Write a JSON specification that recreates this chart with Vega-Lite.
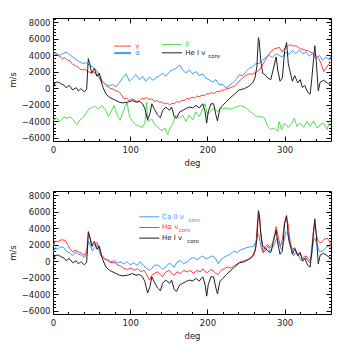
{
"$schema": "https://vega.github.io/schema/vega-lite/v6.json",
"padding": {"left": 7, "top": 17, "right": 0, "bottom": 0},
"spacing": 22,
"resolve": {"scale": {"color": "independent"}},
"config": {
 "view": {"stroke": "#000", "strokeWidth": 1},
 "axis": {"labelFont": "DejaVu Sans", "labelFontSize": 8.5, "labelColor": "#222", "titleFont": "DejaVu Sans", "titleFontSize": 8.5, "titleFontWeight": "normal", "titleColor": "#222", "tickColor": "#000", "tickWidth": 1, "domain": false, "grid": false, "labelOverlap": false, "labelFlush": false, "format": "d"}
},
"datasets": {
 "top": [
  {"s":"γ","x":0,"y":4080},{"s":"γ","x":2,"y":4200},{"s":"γ","x":6,"y":3970},{"s":"γ","x":8,"y":3900},{"s":"γ","x":12.5,"y":3580},{"s":"γ","x":15,"y":3700},{"s":"γ","x":19,"y":3390},{"s":"γ","x":22,"y":3300},{"s":"γ","x":25.5,"y":2880},{"s":"γ","x":29,"y":2750},{"s":"γ","x":32,"y":2600},{"s":"γ","x":35,"y":2300},{"s":"γ","x":38.4,"y":2210},{"s":"γ","x":41,"y":2300},{"s":"γ","x":45,"y":2020},{"s":"γ","x":48,"y":1900},{"s":"γ","x":51,"y":1820},{"s":"γ","x":53,"y":2000},{"s":"γ","x":56,"y":1600},{"s":"γ","x":58,"y":1630},{"s":"γ","x":62,"y":840},{"s":"γ","x":65,"y":700},{"s":"γ","x":68.6,"y":340},{"s":"γ","x":72,"y":100},{"s":"γ","x":75,"y":-60},{"s":"γ","x":78,"y":-100},{"s":"γ","x":81.6,"y":-330},{"s":"γ","x":85,"y":-400},{"s":"γ","x":88,"y":-720},{"s":"γ","x":92,"y":-1300},{"s":"γ","x":95,"y":-1200},{"s":"γ","x":99,"y":-1500},{"s":"γ","x":102,"y":-1300},{"s":"γ","x":105,"y":-1420},{"s":"γ","x":108,"y":-1600},{"s":"γ","x":112,"y":-1500},{"s":"γ","x":115,"y":-1250},{"s":"γ","x":118,"y":-1300},{"s":"γ","x":121,"y":-1150},{"s":"γ","x":125,"y":-1380},{"s":"γ","x":128,"y":-1300},{"s":"γ","x":131,"y":-1620},{"s":"γ","x":134,"y":-1500},{"s":"γ","x":138,"y":-1700},{"s":"γ","x":141,"y":-1650},{"s":"γ","x":144,"y":-1890},{"s":"γ","x":148,"y":-1800},{"s":"γ","x":151,"y":-2010},{"s":"γ","x":154,"y":-1850},{"s":"γ","x":157,"y":-1890},{"s":"γ","x":160,"y":-1650},{"s":"γ","x":164,"y":-1700},{"s":"γ","x":167,"y":-1450},{"s":"γ","x":170,"y":-1500},{"s":"γ","x":173,"y":-1250},{"s":"γ","x":176.5,"y":-1300},{"s":"γ","x":180,"y":-1100},{"s":"γ","x":183,"y":-1190},{"s":"γ","x":186,"y":-950},{"s":"γ","x":189.5,"y":-1030},{"s":"γ","x":193,"y":-850},{"s":"γ","x":196,"y":-910},{"s":"γ","x":199,"y":-700},{"s":"γ","x":202,"y":-720},{"s":"γ","x":205,"y":-550},{"s":"γ","x":209,"y":-640},{"s":"γ","x":212,"y":-400},{"s":"γ","x":215,"y":-450},{"s":"γ","x":218,"y":-250},{"s":"γ","x":222,"y":-210},{"s":"γ","x":225,"y":-50},{"s":"γ","x":228,"y":-20},{"s":"γ","x":231,"y":100},{"s":"γ","x":235,"y":260},{"s":"γ","x":238,"y":500},{"s":"γ","x":241,"y":840},{"s":"γ","x":244,"y":1100},{"s":"γ","x":248,"y":1430},{"s":"γ","x":251,"y":1600},{"s":"γ","x":254,"y":1740},{"s":"γ","x":258,"y":1700},{"s":"γ","x":261,"y":1820},{"s":"γ","x":264,"y":2000},{"s":"γ","x":267,"y":2210},{"s":"γ","x":270,"y":2600},{"s":"γ","x":273.6,"y":3190},{"s":"γ","x":277,"y":3700},{"s":"γ","x":280,"y":4170},{"s":"γ","x":283,"y":4500},{"s":"γ","x":286.6,"y":4760},{"s":"γ","x":290,"y":4850},{"s":"γ","x":293,"y":4950},{"s":"γ","x":297,"y":4360},{"s":"γ","x":299,"y":4700},{"s":"γ","x":301.7,"y":5030},{"s":"γ","x":305,"y":5150},{"s":"γ","x":308,"y":5260},{"s":"γ","x":311,"y":5100},{"s":"γ","x":314.6,"y":5140},{"s":"γ","x":318,"y":4900},{"s":"γ","x":321,"y":4760},{"s":"γ","x":324,"y":4700},{"s":"γ","x":327.6,"y":4560},{"s":"γ","x":331,"y":4500},{"s":"γ","x":334,"y":4360},{"s":"γ","x":337,"y":4200},{"s":"γ","x":340.5,"y":3970},{"s":"γ","x":344,"y":3600},{"s":"γ","x":347,"y":3000},{"s":"γ","x":350.5,"y":2020},{"s":"γ","x":353.5,"y":2400},{"s":"γ","x":357,"y":2900},{"s":"γ","x":360,"y":3190},
  {"s":"α","x":0,"y":4440},{"s":"α","x":4,"y":4240},{"s":"α","x":8,"y":3970},{"s":"α","x":12.5,"y":4170},{"s":"α","x":17,"y":4360},{"s":"α","x":21,"y":4090},{"s":"α","x":25.5,"y":3780},{"s":"α","x":30,"y":3470},{"s":"α","x":34,"y":3190},{"s":"α","x":38.4,"y":3000},{"s":"α","x":43,"y":3070},{"s":"α","x":47,"y":2800},{"s":"α","x":51,"y":2600},{"s":"α","x":55.7,"y":2210},{"s":"α","x":60,"y":1630},{"s":"α","x":64,"y":840},{"s":"α","x":68.6,"y":450},{"s":"α","x":73,"y":260},{"s":"α","x":77,"y":450},{"s":"α","x":81.6,"y":180},{"s":"α","x":86,"y":650},{"s":"α","x":90,"y":1230},{"s":"α","x":94.5,"y":1740},{"s":"α","x":99,"y":840},{"s":"α","x":103,"y":1230},{"s":"α","x":107.5,"y":1630},{"s":"α","x":112,"y":1040},{"s":"α","x":116,"y":1430},{"s":"α","x":120,"y":840},{"s":"α","x":125,"y":1350},{"s":"α","x":129,"y":960},{"s":"α","x":133,"y":1230},{"s":"α","x":138,"y":1510},{"s":"α","x":142,"y":1820},{"s":"α","x":146,"y":1430},{"s":"α","x":151,"y":2020},{"s":"α","x":155,"y":2210},{"s":"α","x":159,"y":2400},{"s":"α","x":164,"y":2800},{"s":"α","x":168,"y":2210},{"s":"α","x":172,"y":1820},{"s":"α","x":176.5,"y":2210},{"s":"α","x":181,"y":1740},{"s":"α","x":185,"y":2020},{"s":"α","x":189.5,"y":1510},{"s":"α","x":194,"y":1740},{"s":"α","x":198,"y":1230},{"s":"α","x":202,"y":1040},{"s":"α","x":207,"y":730},{"s":"α","x":211,"y":1040},{"s":"α","x":215,"y":450},{"s":"α","x":219.7,"y":450},{"s":"α","x":224,"y":60},{"s":"α","x":228,"y":260},{"s":"α","x":232.6,"y":650},{"s":"α","x":237,"y":1040},{"s":"α","x":241,"y":1630},{"s":"α","x":245.6,"y":1510},{"s":"α","x":250,"y":2020},{"s":"α","x":254,"y":2400},{"s":"α","x":258.5,"y":2600},{"s":"α","x":263,"y":3000},{"s":"α","x":267,"y":3000},{"s":"α","x":271.5,"y":3390},{"s":"α","x":276,"y":3780},{"s":"α","x":280,"y":3970},{"s":"α","x":284.4,"y":3700},{"s":"α","x":289,"y":4170},{"s":"α","x":293,"y":3970},{"s":"α","x":297,"y":3780},{"s":"α","x":301.7,"y":4360},{"s":"α","x":306,"y":4090},{"s":"α","x":310,"y":4560},{"s":"α","x":314.6,"y":4170},{"s":"α","x":319,"y":4630},{"s":"α","x":323,"y":4170},{"s":"α","x":327.6,"y":4360},{"s":"α","x":332,"y":3860},{"s":"α","x":336,"y":4240},{"s":"α","x":340.5,"y":3580},{"s":"α","x":345,"y":3970},{"s":"α","x":349,"y":3390},{"s":"α","x":353.5,"y":3780},{"s":"α","x":358,"y":3390},{"s":"α","x":360,"y":3970},
  {"s":"β","x":0,"y":-3860},{"s":"β","x":5,"y":-3650},{"s":"β","x":9.5,"y":-4040},{"s":"β","x":14,"y":-3460},{"s":"β","x":18,"y":-3650},{"s":"β","x":22.4,"y":-3460},{"s":"β","x":27,"y":-3960},{"s":"β","x":31,"y":-4430},{"s":"β","x":35,"y":-3860},{"s":"β","x":40,"y":-3460},{"s":"β","x":44,"y":-2870},{"s":"β","x":47,"y":-2480},{"s":"β","x":50,"y":-2400},{"s":"β","x":54,"y":-2170},{"s":"β","x":59,"y":-2560},{"s":"β","x":63,"y":-2090},{"s":"β","x":67,"y":-2480},{"s":"β","x":72,"y":-3460},{"s":"β","x":76,"y":-2680},{"s":"β","x":79,"y":-2090},{"s":"β","x":83,"y":-3260},{"s":"β","x":87,"y":-3860},{"s":"β","x":91.5,"y":-2680},{"s":"β","x":96,"y":-1700},{"s":"β","x":99,"y":-3460},{"s":"β","x":103,"y":-4040},{"s":"β","x":107.5,"y":-4430},{"s":"β","x":112,"y":-4630},{"s":"β","x":116,"y":-4750},{"s":"β","x":119,"y":-4240},{"s":"β","x":121,"y":-1700},{"s":"β","x":123,"y":-4040},{"s":"β","x":128,"y":-3730},{"s":"β","x":132,"y":-4430},{"s":"β","x":136,"y":-4750},{"s":"β","x":141,"y":-5140},{"s":"β","x":145,"y":-4830},{"s":"β","x":148.5,"y":-5620},{"s":"β","x":151.5,"y":-4830},{"s":"β","x":155,"y":-4360},{"s":"β","x":159,"y":-3260},{"s":"β","x":164,"y":-3650},{"s":"β","x":168,"y":-3260},{"s":"β","x":172,"y":-4040},{"s":"β","x":176.5,"y":-3260},{"s":"β","x":181,"y":-3860},{"s":"β","x":185,"y":-2870},{"s":"β","x":189.5,"y":-3460},{"s":"β","x":194,"y":-2480},{"s":"β","x":197,"y":-1890},{"s":"β","x":200,"y":-3260},{"s":"β","x":204.6,"y":-2680},{"s":"β","x":209,"y":-2400},{"s":"β","x":213,"y":-2870},{"s":"β","x":217.5,"y":-2480},{"s":"β","x":224,"y":-2400},{"s":"β","x":230.5,"y":-2560},{"s":"β","x":237,"y":-2290},{"s":"β","x":243,"y":-2090},{"s":"β","x":250,"y":-2400},{"s":"β","x":256,"y":-2870},{"s":"β","x":261,"y":-3260},{"s":"β","x":265,"y":-3460},{"s":"β","x":269,"y":-3460},{"s":"β","x":273.6,"y":-3580},{"s":"β","x":278,"y":-4630},{"s":"β","x":282,"y":-5020},{"s":"β","x":286.6,"y":-4830},{"s":"β","x":291,"y":-5220},{"s":"β","x":293,"y":-4040},{"s":"β","x":296,"y":-5020},{"s":"β","x":300,"y":-4240},{"s":"β","x":304.7,"y":-4750},{"s":"β","x":309,"y":-4240},{"s":"β","x":312.5,"y":-3650},{"s":"β","x":316,"y":-4630},{"s":"β","x":320,"y":-4240},{"s":"β","x":324.5,"y":-4750},{"s":"β","x":329,"y":-4040},{"s":"β","x":333,"y":-4630},{"s":"β","x":337.5,"y":-3960},{"s":"β","x":342,"y":-4830},{"s":"β","x":346,"y":-4430},{"s":"β","x":350.5,"y":-4240},{"s":"β","x":355,"y":-5020},{"s":"β","x":358,"y":-4040},{"s":"β","x":360,"y":-3650}
 ],
 "he": [
  {"s":"He","x":0,"y":-60},{"s":"He","x":2.6,"y":650},{"s":"He","x":6,"y":760},{"s":"He","x":10,"y":570},{"s":"He","x":14.7,"y":340},{"s":"He","x":17,"y":60},{"s":"He","x":21,"y":340},{"s":"He","x":25.5,"y":-210},{"s":"He","x":30,"y":60},{"s":"He","x":33,"y":-330},{"s":"He","x":36,"y":-60},{"s":"He","x":40.6,"y":-450},{"s":"He","x":43.6,"y":-130},{"s":"He","x":45.7,"y":3580},{"s":"He","x":47.5,"y":3000},{"s":"He","x":50,"y":1820},{"s":"He","x":53.5,"y":2400},{"s":"He","x":57,"y":1430},{"s":"He","x":60,"y":1820},{"s":"He","x":64,"y":260},{"s":"He","x":68.6,"y":-720},{"s":"He","x":73,"y":-1100},{"s":"He","x":79,"y":-1380},{"s":"He","x":86,"y":-1700},{"s":"He","x":90,"y":-1780},{"s":"He","x":96.7,"y":-1700},{"s":"He","x":103,"y":-1500},{"s":"He","x":107.5,"y":-1700},{"s":"He","x":112,"y":-1620},{"s":"He","x":116,"y":-1890},{"s":"He","x":119,"y":-2480},{"s":"He","x":122.5,"y":-3860},{"s":"He","x":125.6,"y":-3070},{"s":"He","x":128,"y":-1890},{"s":"He","x":131,"y":-2480},{"s":"He","x":135.5,"y":-3260},{"s":"He","x":139,"y":-3580},{"s":"He","x":142,"y":-2680},{"s":"He","x":146,"y":-2290},{"s":"He","x":151,"y":-2680},{"s":"He","x":153.6,"y":-2290},{"s":"He","x":157,"y":-3460},{"s":"He","x":160,"y":-3650},{"s":"He","x":164,"y":-2870},{"s":"He","x":168,"y":-2680},{"s":"He","x":172,"y":-2480},{"s":"He","x":176.5,"y":-2290},{"s":"He","x":181,"y":-2400},{"s":"He","x":185,"y":-2090},{"s":"He","x":189.5,"y":-2400},{"s":"He","x":194,"y":-1890},{"s":"He","x":197,"y":-2870},{"s":"He","x":199,"y":-4240},{"s":"He","x":201,"y":-2870},{"s":"He","x":204.6,"y":-1890},{"s":"He","x":208,"y":-1890},{"s":"He","x":211,"y":-3260},{"s":"He","x":213,"y":-3960},{"s":"He","x":216,"y":-2480},{"s":"He","x":219.7,"y":-2090},{"s":"He","x":224,"y":-1700},{"s":"He","x":228,"y":-1300},{"s":"He","x":235,"y":-720},{"s":"He","x":241,"y":-210},{"s":"He","x":248,"y":-60},{"s":"He","x":254,"y":260},{"s":"He","x":258.5,"y":650},{"s":"He","x":261.5,"y":1230},{"s":"He","x":264,"y":2600},{"s":"He","x":266,"y":6120},{"s":"He","x":267,"y":5730},{"s":"He","x":269,"y":3390},{"s":"He","x":271.5,"y":1820},{"s":"He","x":274.5,"y":1630},{"s":"He","x":278,"y":1230},{"s":"He","x":282,"y":1040},{"s":"He","x":285.5,"y":2400},{"s":"He","x":289,"y":3780},{"s":"He","x":291,"y":2210},{"s":"He","x":294,"y":840},{"s":"He","x":297,"y":1230},{"s":"He","x":300,"y":4560},{"s":"He","x":302.5,"y":5530},{"s":"He","x":304.7,"y":3000},{"s":"He","x":307,"y":2020},{"s":"He","x":310,"y":840},{"s":"He","x":313,"y":1510},{"s":"He","x":317,"y":650},{"s":"He","x":320,"y":1040},{"s":"He","x":323,"y":60},{"s":"He","x":326,"y":340},{"s":"He","x":330,"y":-510},{"s":"He","x":333,"y":-720},{"s":"He","x":335,"y":1040},{"s":"He","x":337.5,"y":3580},{"s":"He","x":339,"y":5140},{"s":"He","x":341,"y":3190},{"s":"He","x":343.5,"y":-330},{"s":"He","x":346,"y":730},{"s":"He","x":350.5,"y":960},{"s":"He","x":355,"y":650},{"s":"He","x":360,"y":340}
 ],
 "bot": [
  {"s":"Ca","x":0,"y":1040},{"s":"Ca","x":3,"y":1630},{"s":"Ca","x":6,"y":1430},{"s":"Ca","x":9.5,"y":1740},{"s":"Ca","x":14,"y":1630},{"s":"Ca","x":17,"y":1230},{"s":"Ca","x":21,"y":1040},{"s":"Ca","x":25.5,"y":650},{"s":"Ca","x":28.5,"y":1120},{"s":"Ca","x":33,"y":840},{"s":"Ca","x":37,"y":730},{"s":"Ca","x":40.6,"y":450},{"s":"Ca","x":43.6,"y":840},{"s":"Ca","x":46,"y":2400},{"s":"Ca","x":48,"y":2020},{"s":"Ca","x":51,"y":1230},{"s":"Ca","x":54,"y":1630},{"s":"Ca","x":57,"y":2020},{"s":"Ca","x":59,"y":1430},{"s":"Ca","x":62,"y":650},{"s":"Ca","x":66.5,"y":260},{"s":"Ca","x":71,"y":180},{"s":"Ca","x":75,"y":-60},{"s":"Ca","x":79,"y":60},{"s":"Ca","x":83.7,"y":-210},{"s":"Ca","x":87,"y":-60},{"s":"Ca","x":91.5,"y":-330},{"s":"Ca","x":96,"y":-60},{"s":"Ca","x":100,"y":-450},{"s":"Ca","x":104.5,"y":-210},{"s":"Ca","x":109,"y":-520},{"s":"Ca","x":113,"y":-60},{"s":"Ca","x":117,"y":-520},{"s":"Ca","x":121.7,"y":-910},{"s":"Ca","x":125,"y":-1110},{"s":"Ca","x":128,"y":-910},{"s":"Ca","x":131,"y":-520},{"s":"Ca","x":135.5,"y":-450},{"s":"Ca","x":139,"y":-720},{"s":"Ca","x":142,"y":-990},{"s":"Ca","x":146,"y":-720},{"s":"Ca","x":151,"y":-210},{"s":"Ca","x":153.6,"y":-520},{"s":"Ca","x":157,"y":-720},{"s":"Ca","x":160.5,"y":-130},{"s":"Ca","x":165,"y":60},{"s":"Ca","x":169,"y":-330},{"s":"Ca","x":174,"y":-60},{"s":"Ca","x":178,"y":260},{"s":"Ca","x":182,"y":450},{"s":"Ca","x":186.5,"y":180},{"s":"Ca","x":190.7,"y":450},{"s":"Ca","x":194,"y":650},{"s":"Ca","x":198,"y":260},{"s":"Ca","x":202,"y":450},{"s":"Ca","x":207,"y":650},{"s":"Ca","x":211,"y":260},{"s":"Ca","x":214,"y":-330},{"s":"Ca","x":217.5,"y":180},{"s":"Ca","x":221,"y":450},{"s":"Ca","x":225,"y":650},{"s":"Ca","x":229.6,"y":840},{"s":"Ca","x":234,"y":1230},{"s":"Ca","x":238,"y":1040},{"s":"Ca","x":242.6,"y":1350},{"s":"Ca","x":247,"y":1510},{"s":"Ca","x":251,"y":1630},{"s":"Ca","x":255.5,"y":1740},{"s":"Ca","x":260,"y":1820},{"s":"Ca","x":263,"y":2400},{"s":"Ca","x":265,"y":3390},{"s":"Ca","x":267,"y":3000},{"s":"Ca","x":269,"y":1820},{"s":"Ca","x":272,"y":1040},{"s":"Ca","x":275.8,"y":1350},{"s":"Ca","x":278,"y":1820},{"s":"Ca","x":281,"y":1230},{"s":"Ca","x":284.4,"y":1630},{"s":"Ca","x":287.5,"y":2210},{"s":"Ca","x":290,"y":2800},{"s":"Ca","x":293,"y":2020},{"s":"Ca","x":296,"y":1430},{"s":"Ca","x":298.6,"y":2210},{"s":"Ca","x":301.7,"y":3580},{"s":"Ca","x":304,"y":3390},{"s":"Ca","x":306,"y":2210},{"s":"Ca","x":309,"y":1630},{"s":"Ca","x":311.6,"y":650},{"s":"Ca","x":314.6,"y":1040},{"s":"Ca","x":317.6,"y":730},{"s":"Ca","x":320,"y":260},{"s":"Ca","x":323,"y":-60},{"s":"Ca","x":326,"y":260},{"s":"Ca","x":328.6,"y":650},{"s":"Ca","x":332,"y":60},{"s":"Ca","x":335,"y":650},{"s":"Ca","x":337.5,"y":2600},{"s":"Ca","x":339,"y":2800},{"s":"Ca","x":342,"y":2020},{"s":"Ca","x":345,"y":1120},{"s":"Ca","x":349,"y":1230},{"s":"Ca","x":353.5,"y":1630},{"s":"Ca","x":356.5,"y":1820},{"s":"Ca","x":360,"y":1630},
  {"s":"Hα","x":0,"y":1820},{"s":"Hα","x":3,"y":2400},{"s":"Hα","x":7,"y":2400},{"s":"Hα","x":11,"y":2600},{"s":"Hα","x":15.5,"y":2520},{"s":"Hα","x":19,"y":2020},{"s":"Hα","x":22.4,"y":1430},{"s":"Hα","x":25.5,"y":1120},{"s":"Hα","x":28.5,"y":1350},{"s":"Hα","x":33,"y":1120},{"s":"Hα","x":37,"y":960},{"s":"Hα","x":40.6,"y":730},{"s":"Hα","x":43.6,"y":1230},{"s":"Hα","x":46,"y":3390},{"s":"Hα","x":48,"y":2800},{"s":"Hα","x":51,"y":1820},{"s":"Hα","x":54,"y":2020},{"s":"Hα","x":57,"y":2290},{"s":"Hα","x":59,"y":1820},{"s":"Hα","x":62,"y":840},{"s":"Hα","x":66.5,"y":340},{"s":"Hα","x":71,"y":60},{"s":"Hα","x":75,"y":-210},{"s":"Hα","x":79,"y":-130},{"s":"Hα","x":83.7,"y":-450},{"s":"Hα","x":88,"y":-610},{"s":"Hα","x":92,"y":-910},{"s":"Hα","x":96.7,"y":-990},{"s":"Hα","x":101,"y":-840},{"s":"Hα","x":105,"y":-1110},{"s":"Hα","x":109.6,"y":-910},{"s":"Hα","x":114,"y":-1300},{"s":"Hα","x":118,"y":-1110},{"s":"Hα","x":121.7,"y":-1700},{"s":"Hα","x":125,"y":-2290},{"s":"Hα","x":128,"y":-1700},{"s":"Hα","x":131,"y":-1500},{"s":"Hα","x":135.5,"y":-1300},{"s":"Hα","x":139,"y":-1620},{"s":"Hα","x":142,"y":-1890},{"s":"Hα","x":146,"y":-1300},{"s":"Hα","x":151,"y":-1110},{"s":"Hα","x":153.6,"y":-1500},{"s":"Hα","x":157,"y":-1700},{"s":"Hα","x":160.5,"y":-1300},{"s":"Hα","x":165,"y":-1500},{"s":"Hα","x":169,"y":-1110},{"s":"Hα","x":174,"y":-1300},{"s":"Hα","x":178,"y":-1110},{"s":"Hα","x":182,"y":-1500},{"s":"Hα","x":186.5,"y":-1110},{"s":"Hα","x":190.7,"y":-1300},{"s":"Hα","x":194,"y":-910},{"s":"Hα","x":197,"y":-1300},{"s":"Hα","x":200,"y":-1380},{"s":"Hα","x":204.6,"y":-990},{"s":"Hα","x":208,"y":-1230},{"s":"Hα","x":211,"y":-1500},{"s":"Hα","x":214,"y":-1620},{"s":"Hα","x":217.5,"y":-1110},{"s":"Hα","x":222,"y":-910},{"s":"Hα","x":226,"y":-720},{"s":"Hα","x":230.5,"y":-840},{"s":"Hα","x":235,"y":-520},{"s":"Hα","x":239,"y":-330},{"s":"Hα","x":243,"y":-60},{"s":"Hα","x":248,"y":60},{"s":"Hα","x":252,"y":180},{"s":"Hα","x":256,"y":340},{"s":"Hα","x":260,"y":650},{"s":"Hα","x":262.7,"y":1630},{"s":"Hα","x":264,"y":3780},{"s":"Hα","x":266,"y":5730},{"s":"Hα","x":267.6,"y":5340},{"s":"Hα","x":269.7,"y":2600},{"s":"Hα","x":272,"y":1040},{"s":"Hα","x":275,"y":1820},{"s":"Hα","x":278,"y":2020},{"s":"Hα","x":281,"y":1630},{"s":"Hα","x":284.4,"y":2210},{"s":"Hα","x":287.5,"y":3390},{"s":"Hα","x":289,"y":4170},{"s":"Hα","x":292,"y":2800},{"s":"Hα","x":294.5,"y":1820},{"s":"Hα","x":297,"y":2600},{"s":"Hα","x":299.5,"y":4560},{"s":"Hα","x":302,"y":5420},{"s":"Hα","x":304.7,"y":4360},{"s":"Hα","x":307,"y":2400},{"s":"Hα","x":310,"y":1430},{"s":"Hα","x":313,"y":1630},{"s":"Hα","x":317,"y":840},{"s":"Hα","x":320,"y":1040},{"s":"Hα","x":323,"y":260},{"s":"Hα","x":326,"y":650},{"s":"Hα","x":330,"y":60},{"s":"Hα","x":333,"y":-210},{"s":"Hα","x":335,"y":1430},{"s":"Hα","x":337.5,"y":3970},{"s":"Hα","x":339,"y":4560},{"s":"Hα","x":341,"y":3190},{"s":"Hα","x":343.5,"y":2400},{"s":"Hα","x":347,"y":2210},{"s":"Hα","x":350.5,"y":2600},{"s":"Hα","x":355,"y":2800},{"s":"Hα","x":358,"y":2400},{"s":"Hα","x":360,"y":1820}
 ],
 "legtop": [
  {"s":"γ","x1":79.4,"x2":101,"y":5100,"tx":106.6,"t":"γ"},
  {"s":"α","x1":79.4,"x2":101,"y":4250,"tx":106.6,"t":"α"},
  {"s":"β","x1":141,"x2":167,"y":5300,"tx":171.3,"t":"β"},
  {"s":"He","x1":141,"x2":167,"y":4280,"tx":171.3,"t":"He  I v"}
 ],
 "subtop": [{"s":"He","x":201.1,"y":3950,"t":"core"}],
 "legbot": [
  {"s":"Ca","x1":111.8,"x2":137.7,"y":5370,"tx":141.2,"t":"Ca  II  v"},
  {"s":"Hα","x1":111.8,"x2":137.7,"y":4080,"tx":141.2,"t":"Hα v"},
  {"s":"He","x1":111.8,"x2":137.7,"y":2790,"tx":141.2,"t":"He  I  v"}
 ],
 "subbot": [
  {"s":"Ca","x":175,"y":5040,"t":"core"},
  {"s":"Hα","x":162.8,"y":3750,"t":"core"},
  {"s":"He","x":173.8,"y":2460,"t":"core"}
 ]
},
"vconcat": [
 {
  "width": 278, "height": 123,
  "resolve": {"axis": {"x": "independent", "y": "independent"}},
  "encoding": {
   "color": {"field": "s", "type": "nominal", "scale": {"domain": ["γ","α","β","He"], "range": ["#ff3b3b","#3a9cff","#4be34b","#222222"]}, "legend": null}
  },
  "layer": [
   {"data": {"name": "top"}, "transform": [{"filter": "datum.s === 'γ'"}], "mark": {"type": "line", "strokeWidth": 1, "clip": true},
    "encoding": {
     "x": {"field": "x", "type": "quantitative", "scale": {"domain": [0, 360], "nice": false, "zero": false}, "axis": {"orient": "bottom", "values": [0,100,200,300], "tickSize": -5, "labelPadding": 9, "title": "deg", "titlePadding": 5}},
     "y": {"field": "y", "type": "quantitative", "scale": {"domain": [-6400, 8500], "nice": false, "zero": false}, "axis": {"orient": "left", "values": [-6000,-4000,-2000,0,2000,4000,6000,8000], "tickSize": -5, "labelPadding": 8, "title": "m/s", "titlePadding": 4}}
    }},
   {"data": {"name": "top"}, "transform": [{"filter": "datum.s === 'α'"}], "mark": {"type": "line", "strokeWidth": 1, "clip": true},
    "encoding": {
     "x": {"field": "x", "type": "quantitative", "axis": {"orient": "top", "values": [0,100,200,300], "tickSize": -5, "labels": false, "title": null}},
     "y": {"field": "y", "type": "quantitative", "axis": {"orient": "right", "values": [-6000,-4000,-2000,0,2000,4000,6000,8000], "tickSize": -5, "labels": false, "title": null}}
    }},
   {"data": {"name": "top"}, "transform": [{"filter": "datum.s === 'β'"}], "mark": {"type": "line", "strokeWidth": 1, "clip": true},
    "encoding": {
     "x": {"field": "x", "type": "quantitative", "axis": {"orient": "bottom", "values": [20,40,60,80,120,140,160,180,220,240,260,280,320,340], "tickSize": -2.5, "labels": false, "title": null}},
     "y": {"field": "y", "type": "quantitative", "axis": {"orient": "left", "values": [-5600,-5200,-4800,-4400,-3600,-3200,-2800,-2400,-1600,-1200,-800,-400,400,800,1200,1600,2400,2800,3200,3600,4400,4800,5200,5600,6400,6800,7200,7600,8400], "tickSize": -2.5, "labels": false, "title": null}}
    }},
   {"data": {"name": "he"}, "mark": {"type": "line", "strokeWidth": 1, "clip": true},
    "encoding": {
     "x": {"field": "x", "type": "quantitative", "axis": {"orient": "top", "values": [20,40,60,80,120,140,160,180,220,240,260,280,320,340], "tickSize": -2.5, "labels": false, "title": null}},
     "y": {"field": "y", "type": "quantitative", "axis": {"orient": "right", "values": [-5600,-5200,-4800,-4400,-3600,-3200,-2800,-2400,-1600,-1200,-800,-400,400,800,1200,1600,2400,2800,3200,3600,4400,4800,5200,5600,6400,6800,7200,7600,8400], "tickSize": -2.5, "labels": false, "title": null}}
    }},
   {"data": {"name": "legtop"}, "mark": {"type": "rule"},
    "encoding": {
     "x": {"field": "x1", "type": "quantitative", "axis": null},
     "x2": {"field": "x2"},
     "y": {"field": "y", "type": "quantitative", "axis": null},
     "strokeWidth": {"condition": {"test": "datum.s === 'α'", "value": 2}, "value": 1}
    }},
   {"data": {"name": "legtop"}, "mark": {"type": "text", "align": "left", "baseline": "middle", "font": "DejaVu Sans", "fontSize": 7},
    "encoding": {
     "x": {"field": "tx", "type": "quantitative", "axis": null},
     "y": {"field": "y", "type": "quantitative", "axis": null},
     "text": {"field": "t"}
    }},
   {"data": {"name": "subtop"}, "mark": {"type": "text", "align": "left", "baseline": "middle", "font": "DejaVu Sans", "fontSize": 5.5},
    "encoding": {
     "x": {"field": "x", "type": "quantitative", "axis": null},
     "y": {"field": "y", "type": "quantitative", "axis": null},
     "text": {"field": "t"}
    }}
  ]
 },
 {
  "width": 278, "height": 123,
  "resolve": {"axis": {"x": "independent", "y": "independent"}},
  "encoding": {
   "color": {"field": "s", "type": "nominal", "scale": {"domain": ["Ca","Hα","He"], "range": ["#3a9cff","#ff3b3b","#222222"]}, "legend": null}
  },
  "layer": [
   {"data": {"name": "bot"}, "transform": [{"filter": "datum.s === 'Ca'"}], "mark": {"type": "line", "strokeWidth": 1, "clip": true},
    "encoding": {
     "x": {"field": "x", "type": "quantitative", "scale": {"domain": [0, 360], "nice": false, "zero": false}, "axis": {"orient": "bottom", "values": [0,100,200,300], "tickSize": -5, "labelPadding": 9, "title": "deg", "titlePadding": 5}},
     "y": {"field": "y", "type": "quantitative", "scale": {"domain": [-6400, 8500], "nice": false, "zero": false}, "axis": {"orient": "left", "values": [-6000,-4000,-2000,0,2000,4000,6000,8000], "tickSize": -5, "labelPadding": 8, "title": "m/s", "titlePadding": 4}}
    }},
   {"data": {"name": "bot"}, "transform": [{"filter": "datum.s === 'Hα'"}], "mark": {"type": "line", "strokeWidth": 1, "clip": true},
    "encoding": {
     "x": {"field": "x", "type": "quantitative", "axis": {"orient": "top", "values": [0,100,200,300], "tickSize": -5, "labels": false, "title": null}},
     "y": {"field": "y", "type": "quantitative", "axis": {"orient": "right", "values": [-6000,-4000,-2000,0,2000,4000,6000,8000], "tickSize": -5, "labels": false, "title": null}}
    }},
   {"data": {"name": "he"}, "mark": {"type": "line", "strokeWidth": 1, "clip": true},
    "encoding": {
     "x": {"field": "x", "type": "quantitative", "axis": {"orient": "bottom", "values": [20,40,60,80,120,140,160,180,220,240,260,280,320,340], "tickSize": -2.5, "labels": false, "title": null}},
     "y": {"field": "y", "type": "quantitative", "axis": {"orient": "left", "values": [-5600,-5200,-4800,-4400,-3600,-3200,-2800,-2400,-1600,-1200,-800,-400,400,800,1200,1600,2400,2800,3200,3600,4400,4800,5200,5600,6400,6800,7200,7600,8400], "tickSize": -2.5, "labels": false, "title": null}}
    }},
   {"data": {"name": "legbot"}, "mark": {"type": "rule"},
    "encoding": {
     "x": {"field": "x1", "type": "quantitative", "axis": {"orient": "top", "values": [20,40,60,80,120,140,160,180,220,240,260,280,320,340], "tickSize": -2.5, "labels": false, "title": null}},
     "x2": {"field": "x2"},
     "y": {"field": "y", "type": "quantitative", "axis": {"orient": "right", "values": [-5600,-5200,-4800,-4400,-3600,-3200,-2800,-2400,-1600,-1200,-800,-400,400,800,1200,1600,2400,2800,3200,3600,4400,4800,5200,5600,6400,6800,7200,7600,8400], "tickSize": -2.5, "labels": false, "title": null}}
    }},
   {"data": {"name": "legbot"}, "mark": {"type": "text", "align": "left", "baseline": "middle", "font": "DejaVu Sans", "fontSize": 7},
    "encoding": {
     "x": {"field": "tx", "type": "quantitative", "axis": null},
     "y": {"field": "y", "type": "quantitative", "axis": null},
     "text": {"field": "t"}
    }},
   {"data": {"name": "subbot"}, "mark": {"type": "text", "align": "left", "baseline": "middle", "font": "DejaVu Sans", "fontSize": 5.5},
    "encoding": {
     "x": {"field": "x", "type": "quantitative", "axis": null},
     "y": {"field": "y", "type": "quantitative", "axis": null},
     "text": {"field": "t"}
    }}
  ]
 }
]
}
